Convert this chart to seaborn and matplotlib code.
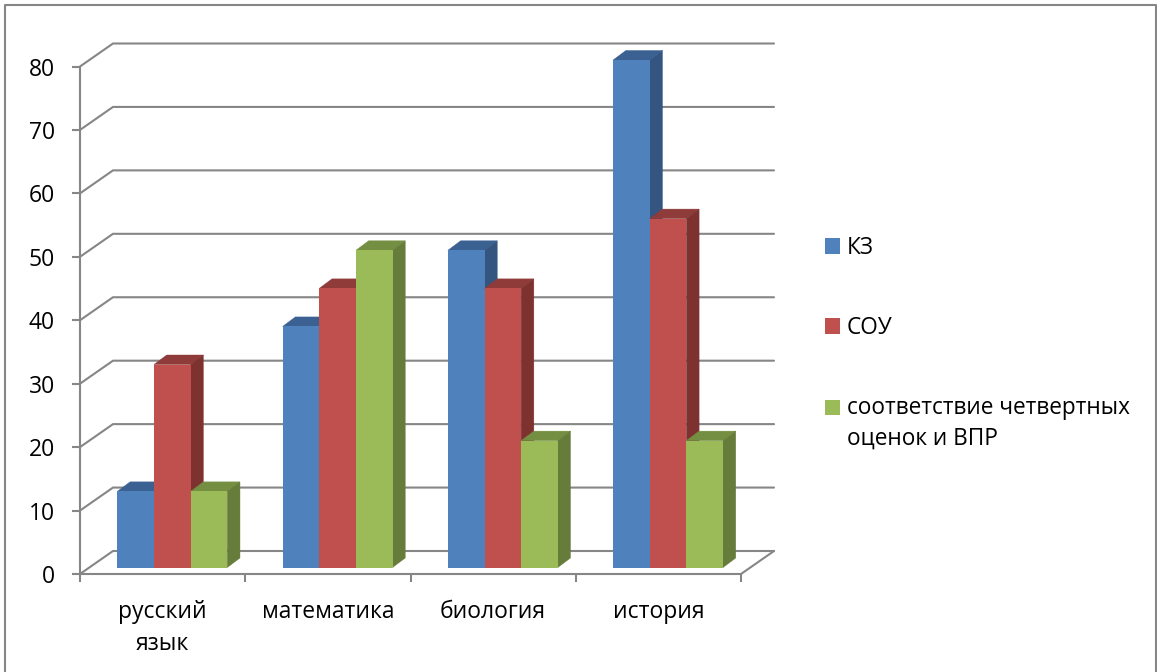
import matplotlib
matplotlib.use("Agg")
import matplotlib.pyplot as plt
from matplotlib.lines import Line2D
from matplotlib.patches import Polygon
import pandas as pd
import seaborn as sns

categories = ["русский\nязык", "математика", "биология", "история"]
kz = [12, 38, 50, 80]
sou = [32, 44, 44, 55]
match = [12, 50, 20, 20]
series_names = ["КЗ", "СОУ", "соответствие четвертных\nоценок и ВПР"]
yticks = [0, 10, 20, 30, 40, 50, 60, 70, 80]
front_colors = ["#4F81BD", "#C0504D", "#9BBB59"]
top_colors = ["#3B6092", "#8F3B39", "#748E42"]
side_colors = ["#335580", "#7D3230", "#667C3A"]
line_color = "#868686"

W, H = 1157, 672
sns.set_theme(style="white")
plt.rcParams["font.family"] = ["Open Sans", "DejaVu Sans"]

fig = plt.figure(figsize=(W / 100, H / 100), dpi=100, facecolor="white")
L, R, T, B = 80, 741, 66.5, 574
ax = fig.add_axes([L / W, 1 - B / H, (R - L) / W, (B - T) / H])

df = pd.DataFrame({
    "category": categories * 3,
    "series": [s for s in series_names for _ in categories],
    "value": kz + sou + match,
})
sns.barplot(data=df, x="category", y="value", hue="series", hue_order=series_names,
            palette=front_colors, width=0.665, saturation=1, dodge=True, ax=ax,
            errorbar=None, legend=False)

ax.set_xlim(-0.5, 3.5)
ax.set_ylim(0, 80)
ax.set_xlabel("")
ax.set_ylabel("")
px_x = (R - L) / 4
px_y = (B - T) / 80

# depth of the chart box and of the bars, in data units
wall_dx, wall_dy = 33 / px_x, 23 / px_y
bar_shift_x, bar_shift_y = 9.7 / px_x, 6.5 / px_y
depth_dx, depth_dy = 12.7 / px_x, 9.5 / px_y

for v in yticks:
    ax.plot([-0.5, -0.5 + wall_dx, 3.5 + wall_dx], [v, v + wall_dy, v + wall_dy],
            color=line_color, lw=1.5, clip_on=False, zorder=1, solid_joinstyle="miter")
ax.plot([3.5, 3.5 + wall_dx], [0, wall_dy], color=line_color, lw=1.5, clip_on=False, zorder=1)

z = 3
for s, cont in enumerate(ax.containers):
    for patch in cont.patches:
        patch.set_x(patch.get_x() + bar_shift_x)
        patch.set_y(patch.get_y() + bar_shift_y)
        patch.set_clip_on(False)
        patch.set_linewidth(0)
        x0, y0 = patch.get_x(), patch.get_y()
        x1, y1 = x0 + patch.get_width(), y0 + patch.get_height()
        ax.add_patch(Polygon([(x0, y1), (x1, y1), (x1 + depth_dx, y1 + depth_dy), (x0 + depth_dx, y1 + depth_dy)],
                             closed=True, fc=top_colors[s], ec=top_colors[s], lw=0.3, clip_on=False, zorder=z))
        ax.add_patch(Polygon([(x1, y0), (x1, y1), (x1 + depth_dx, y1 + depth_dy), (x1 + depth_dx, y0 + depth_dy)],
                             closed=True, fc=side_colors[s], ec=side_colors[s], lw=0.3, clip_on=False, zorder=z))
        patch.set_zorder(z + 0.5)
    z += 1

for name in ["top", "right"]:
    ax.spines[name].set_visible(False)
for name in ["left", "bottom"]:
    ax.spines[name].set_color(line_color)
    ax.spines[name].set_linewidth(1.5)
    ax.spines[name].set_zorder(2)

ax.set_yticks(yticks)
ax.set_yticklabels([str(v) for v in yticks], fontsize=16.5, color="black")
ax.tick_params(axis="y", left=True, length=6, width=1.5, color=line_color, pad=12)
ax.set_xticks(range(4))
ax.set_xticklabels(categories, fontsize=16.5, color="black", linespacing=1.45)
ax.set_xticks([-0.5, 0.5, 1.5, 2.5, 3.5], minor=True)
ax.tick_params(axis="x", which="major", bottom=False, length=0, pad=18.5)
ax.tick_params(axis="x", which="minor", bottom=True, length=6, width=1.5, color=line_color)

leg = ax.legend(handles=[c.patches[0] for c in ax.containers], labels=series_names,
                loc="upper left", bbox_to_anchor=(825 / W, 1 - 236 / H), bbox_transform=fig.transFigure,
                frameon=False, fontsize=16.3, handlelength=0.66, handleheight=0.66, handletextpad=0.31,
                labelspacing=2.47, borderpad=0, borderaxespad=0, labelcolor="black")
for t in leg.get_texts():
    t.set_linespacing(1.4)
third = leg.legend_handles[2]
third.set_y(third.get_y() + 12)

fig.add_artist(Line2D([5 / W, 5 / W, 1156 / W, 1156 / W], [0, 1 - 5 / H, 1 - 5 / H, 0],
                      color=line_color, lw=1.5, transform=fig.transFigure))
fig.savefig("out.png", dpi=100, facecolor="white")
